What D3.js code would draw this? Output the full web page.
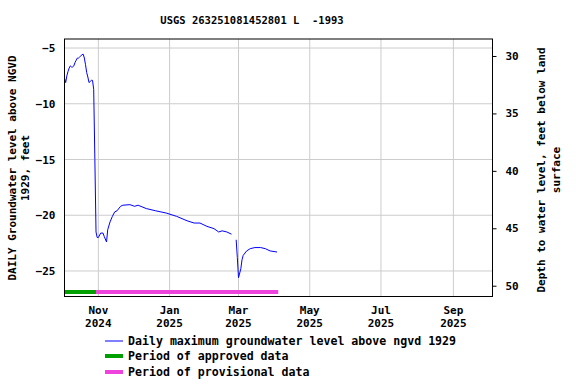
<!DOCTYPE html>
<html><head><meta charset="utf-8">
<script src="https://cdn.jsdelivr.net/npm/d3@7"></script>
<style>body{margin:0;background:#fff}svg{display:block}text{font-family:"DejaVu Sans Mono",monospace;font-weight:bold;fill:#000;white-space:pre}</style>
</head><body><svg id="c" width="576" height="384"></svg>
<script>
const title = "USGS 263251081452801 L  -1993";
const dates = ["2024-10-03","2024-10-04","2024-10-05","2024-10-06","2024-10-07","2024-10-08","2024-10-09","2024-10-10","2024-10-11","2024-10-12","2024-10-13","2024-10-14","2024-10-15","2024-10-16","2024-10-17","2024-10-18","2024-10-19","2024-10-20","2024-10-21","2024-10-22","2024-10-23","2024-10-24","2024-10-25","2024-10-26","2024-10-27","2024-10-28","2024-10-29","2024-10-30","2024-10-31","2024-11-01","2024-11-03","2024-11-05","2024-11-06","2024-11-08","2024-11-09","2024-11-11","2024-11-13","2024-11-15","2024-11-17","2024-11-20","2024-11-22","2024-11-28","2024-12-02","2024-12-05","2024-12-12","2024-12-20","2024-12-29","2025-01-07","2025-01-16","2025-01-22","2025-01-27","2025-02-02","2025-02-08","2025-02-12","2025-02-15","2025-02-19","2025-02-23","2025-02-25","2025-02-27","2025-02-28","2025-03-01","2025-03-03","2025-03-04","2025-03-05","2025-03-08","2025-03-11","2025-03-15","2025-03-20","2025-03-24","2025-03-28","2025-04-03"];
const levels = [-7.7,-8.1,-7.5,-7.1,-6.8,-6.6,-6.7,-6.7,-6.6,-6.3,-6.1,-5.9,-5.9,-5.8,-5.7,-5.6,-5.55,-5.9,-6.5,-7.2,-7.6,-8.1,-8.0,-7.9,-7.9,-8.7,-15.0,-21.5,-22.0,-22.0,-21.6,-21.6,-21.9,-22.4,-21.3,-20.6,-20.1,-19.7,-19.6,-19.2,-19.1,-19.05,-19.2,-19.1,-19.4,-19.6,-19.8,-20.1,-20.5,-20.7,-20.7,-21.0,-21.2,-21.5,-21.4,-21.5,-21.7,null,-22.2,-23.8,-25.6,-24.8,-24.0,-23.6,-23.2,-23.0,-22.9,-22.9,-23.0,-23.2,-23.3];
const approved = ["2024-10-03","2024-10-30"];
const provisional = ["2024-10-30","2025-04-04"];
const xTicks = ["2024-11-01","2025-01-01","2025-03-01","2025-05-01","2025-07-01","2025-09-01"];
const leftTicks = [-5,-10,-15,-20,-25];
const rightTicks = [30,35,40,45,50];
const legendLabels = ["Daily maximum groundwater level above ngvd 1929","Period of approved data","Period of provisional data"];

const P = d3.utcParse("%Y-%m-%d");
const fmtM = d3.utcFormat("%b"), fmtY = d3.utcFormat("%Y");
const L=64.5,R=492.5,T=39,B=296.5;
const svg = d3.select("#c");
const x = d3.scaleUtc().domain([Date.UTC(2024,9,3), Date.UTC(2025,9,4,12)]).range([L,R]);
const y = d3.scaleLinear().domain([-27.29,-4.19]).range([B,T]);
const yR = d3.scaleLinear().domain([50.94,28.52]).range([B,T]);

// grid
const g = svg.append("g");
g.selectAll(".vg").data(xTicks.map(P)).join("line").attr("x1",d=>x(d)).attr("x2",d=>x(d)).attr("y1",T).attr("y2",B).attr("stroke","#cccccc");
g.selectAll(".hg").data(leftTicks).join("line").attr("x1",L).attr("x2",R).attr("y1",d=>y(d)).attr("y2",d=>y(d)).attr("stroke","#cccccc");

// bars
const bars = [[approved,"#00a000"],[provisional,"#ee44dd"]];
svg.selectAll(".bar").data(bars).join("line").attr("x1",d=>x(P(d[0][0]))).attr("x2",d=>x(P(d[0][1]))).attr("y1",292).attr("y2",292).attr("stroke",d=>d[1]).attr("stroke-width",4);

// line
const data = dates.map((d,i)=>({d:P(d),v:levels[i]}));
svg.append("path").datum(data).attr("fill","none").attr("stroke","#0000ff").attr("stroke-width",1)
  .attr("d", d3.line().defined(d=>d.v!==null).x(d=>x(d.d)).y(d=>y(d.v)));

// frame
svg.append("rect").attr("x",L).attr("y",T).attr("width",R-L).attr("height",B-T).attr("fill","none").attr("stroke","#000");

// left axis
const la = svg.append("g").attr("transform",`translate(${L},0)`).call(d3.axisLeft(y).tickValues(leftTicks).tickSize(0).tickFormat(d3.format("d")));
la.select(".domain").remove();
la.selectAll("text").style("font-size","11px").attr("dx","-6");
// right axis
const ra = svg.append("g").attr("transform",`translate(${R},0)`).call(d3.axisRight(yR).tickValues(rightTicks).tickSize(4).tickFormat(d3.format("d")));
ra.select(".domain").remove();
ra.selectAll("text").style("font-size","11px").attr("dx","6");
// bottom axis
const ba = svg.append("g").attr("transform",`translate(0,${B})`).call(d3.axisBottom(x).tickValues(xTicks.map(P)).tickSize(0).tickFormat(""));
ba.select(".domain").remove();
const xl = svg.append("g").selectAll("text").data(xTicks.map(P)).join("text").attr("text-anchor","middle").style("font-size","11px");
xl.append("tspan").attr("x",d=>x(d)).attr("y",314).text(d=>fmtM(d));
xl.append("tspan").attr("x",d=>x(d)).attr("y",327).text(d=>fmtY(d));

// title
svg.append("text").attr("x",252).attr("y",24).attr("text-anchor","middle").attr("xml:space","preserve").style("font-size","10.5px").text(title);

// axis titles
svg.append("text").attr("transform","translate(16,168) rotate(-90)").attr("text-anchor","middle").style("font-size","11px").text("DAILY Groundwater level above NGVD");
svg.append("text").attr("transform","translate(29,168) rotate(-90)").attr("text-anchor","middle").style("font-size","11px").text("1929, feet");
svg.append("text").attr("transform","translate(545,170) rotate(-90)").attr("text-anchor","middle").style("font-size","11px").text("Depth to water level, feet below land");
svg.append("text").attr("transform","translate(560,170) rotate(-90)").attr("text-anchor","middle").style("font-size","11px").text("surface");

// legend
const lg = svg.append("g");
const ly = [341,356,372], lc = ["#0000ff","#00a000","#ee44dd"], lw = [1,4,4];
legendLabels.forEach((t,i)=>{
  lg.append("line").attr("x1",105).attr("x2",123).attr("y1",ly[i]).attr("y2",ly[i]).attr("stroke",lc[i]).attr("stroke-width",lw[i]);
  lg.append("text").attr("x",128).attr("y",ly[i]+4).style("font-size","11.6px").text(t);
});
</script></body></html>
